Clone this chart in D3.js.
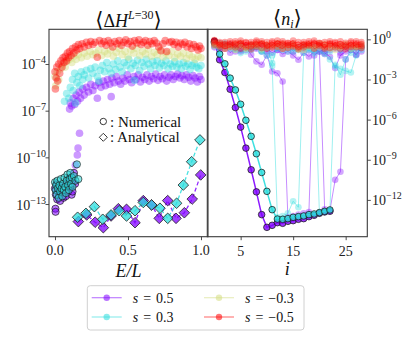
<!DOCTYPE html>
<html><head><meta charset="utf-8">
<script src="https://cdn.jsdelivr.net/npm/d3@7"></script>
<style>body{margin:0;background:#fff}svg{display:block}</style>
</head><body>
<svg id="chart" width="416" height="337"></svg>
<script>
// ---------------- DATA (log10 values) ----------------
const seriesNames = ["s = 0.5", "s = 0.3", "s = −0.3", "s = −0.5"];
const seriesColors = ["#8000ff", "#2adddd", "#d4dd80", "#ff0000"];

// Left panel: numerical <ΔH> scatter, [E/L, log10 value]
const numPurple = [[0.1,-6.9],[0.105,-6.5],[0.115,-6.7],[0.125,-6.2],[0.135,-6.6],[0.145,-6.0],[0.155,-6.4],[0.165,-5.8],[0.175,-6.2],[0.19,-5.6],[0.2,-6.0],[0.215,-5.5],[0.23,-5.8],[0.245,-5.3],[0.26,-5.7],[0.275,-5.4],[0.29,-6.2],[0.3,-5.2],[0.315,-5.5],[0.33,-5.1],[0.345,-5.4],[0.36,-5.0],[0.375,-5.3],[0.385,-6.1],[0.39,-4.9],[0.405,-5.2],[0.42,-4.8],[0.435,-5.1],[0.45,-5.3],[0.465,-4.9],[0.48,-5.1],[0.495,-4.7],[0.51,-5.0],[0.525,-5.2],[0.54,-4.8],[0.555,-5.0],[0.57,-4.7],[0.585,-5.15],[0.6,-4.85],[0.615,-5.0],[0.63,-4.7],[0.645,-5.1],[0.66,-4.8],[0.675,-4.95],[0.69,-4.65],[0.705,-5.05],[0.72,-4.8],[0.735,-4.95],[0.75,-4.7],[0.765,-5.1],[0.78,-4.85],[0.795,-4.7],[0.81,-5.0],[0.825,-4.8],[0.84,-4.65],[0.855,-4.9],[0.87,-4.75],[0.885,-5.0],[0.9,-4.7],[0.915,-4.85],[0.93,-5.1],[0.945,-4.75],[0.96,-4.9],[0.975,-5.15],[0.99,-4.8],[1.0,-5.0],[0.14,-10.5],[0.153,-9.85],[0.158,-9.4],[0.168,-8.45]];
const numCyan = [[0.065,-6.4],[0.08,-5.9],[0.095,-6.2],[0.105,-5.5],[0.12,-5.0],[0.125,-5.7],[0.135,-4.6],[0.14,-6.5],[0.15,-5.2],[0.16,-4.8],[0.17,-5.4],[0.18,-4.5],[0.19,-5.0],[0.2,-4.7],[0.215,-4.4],[0.23,-4.9],[0.245,-4.3],[0.26,-4.6],[0.275,-4.2],[0.29,-4.8],[0.3,-5.1],[0.31,-4.4],[0.325,-4.1],[0.34,-4.5],[0.355,-3.9],[0.37,-4.3],[0.385,-4.6],[0.4,-4.0],[0.415,-4.35],[0.43,-3.8],[0.445,-4.2],[0.46,-4.5],[0.475,-3.9],[0.49,-4.1],[0.505,-3.7],[0.52,-4.3],[0.535,-3.95],[0.545,-5.05],[0.55,-4.1],[0.565,-3.75],[0.58,-4.4],[0.595,-3.9],[0.61,-4.15],[0.625,-3.7],[0.64,-4.0],[0.655,-4.3],[0.67,-3.85],[0.685,-4.1],[0.7,-3.8],[0.715,-4.25],[0.73,-3.95],[0.745,-4.1],[0.76,-3.8],[0.775,-4.3],[0.79,-4.0],[0.805,-4.15],[0.82,-3.85],[0.835,-4.2],[0.85,-4.0],[0.865,-4.3],[0.88,-3.9],[0.895,-4.15],[0.91,-4.0],[0.925,-4.35],[0.94,-4.1],[0.955,-3.95],[0.97,-4.2],[0.985,-4.3],[1.0,-4.1]];
const numYellow = [[0.0,-4.8],[0.005,-5.4],[0.015,-4.5],[0.025,-5.0],[0.04,-4.3],[0.055,-4.0],[0.07,-4.2],[0.085,-3.8],[0.1,-3.7],[0.115,-3.9],[0.13,-3.5],[0.145,-3.7],[0.16,-3.4],[0.18,-3.6],[0.2,-3.3],[0.22,-3.5],[0.24,-3.2],[0.26,-3.4],[0.28,-3.3],[0.3,-3.1],[0.32,-3.45],[0.34,-3.2],[0.36,-3.35],[0.38,-3.1],[0.4,-3.5],[0.42,-3.25],[0.44,-3.0],[0.46,-3.4],[0.48,-3.2],[0.5,-3.55],[0.52,-3.1],[0.54,-3.3],[0.56,-3.0],[0.58,-3.45],[0.6,-3.2],[0.62,-3.35],[0.64,-3.05],[0.66,-3.5],[0.68,-3.25],[0.7,-3.4],[0.72,-3.1],[0.74,-3.55],[0.76,-3.3],[0.78,-3.45],[0.8,-3.2],[0.82,-3.6],[0.84,-3.35],[0.86,-3.5],[0.88,-3.3],[0.9,-3.65],[0.92,-3.4],[0.94,-3.55],[0.96,-3.7],[0.98,-3.5],[1.0,-3.6]];
const numRed = [[0.0,-4.5],[0.003,-5.6],[0.008,-4.9],[0.012,-4.2],[0.018,-5.1],[0.025,-4.0],[0.032,-4.6],[0.04,-3.8],[0.048,-4.2],[0.055,-3.6],[0.062,-3.9],[0.07,-3.5],[0.078,-3.8],[0.085,-3.3],[0.092,-3.6],[0.1,-3.2],[0.11,-3.45],[0.12,-3.0],[0.13,-3.3],[0.14,-2.9],[0.15,-3.1],[0.16,-2.75],[0.17,-3.0],[0.185,-2.7],[0.2,-2.9],[0.215,-2.6],[0.23,-2.8],[0.245,-2.55],[0.26,-2.75],[0.275,-2.6],[0.29,-3.57],[0.305,-2.5],[0.32,-2.7],[0.335,-2.55],[0.35,-2.8],[0.365,-2.5],[0.38,-2.65],[0.395,-2.9],[0.41,-2.55],[0.425,-2.7],[0.44,-2.5],[0.455,-2.8],[0.47,-2.6],[0.485,-2.45],[0.5,-2.7],[0.515,-2.55],[0.53,-2.85],[0.545,-2.5],[0.56,-2.65],[0.575,-2.45],[0.59,-2.75],[0.605,-2.6],[0.62,-2.5],[0.635,-2.8],[0.65,-2.55],[0.665,-2.7],[0.68,-2.5],[0.695,-2.65],[0.71,-2.9],[0.726,-3.15],[0.74,-2.7],[0.755,-2.5],[0.765,-3.2],[0.785,-2.6],[0.8,-2.55],[0.815,-2.75],[0.83,-2.6],[0.845,-2.9],[0.86,-2.65],[0.875,-2.75],[0.89,-2.6],[0.905,-2.9],[0.92,-2.7],[0.935,-3.0],[0.95,-2.75],[0.965,-2.9],[0.98,-3.1],[0.99,-2.85],[1.0,-3.0]];
// low-energy cluster (dark edged)
const clusterPurple = [[0.0,-12.0],[0.003,-13.3],[0.004,-13.5],[0.006,-12.4],[0.01,-11.7],[0.015,-12.7],[0.02,-12.2],[0.028,-11.9],[0.035,-12.8],[0.042,-12.3],[0.05,-11.8],[0.058,-12.6],[0.066,-12.0],[0.074,-12.5],[0.082,-11.6],[0.09,-12.2],[0.098,-11.3],[0.106,-11.9],[0.114,-12.4],[0.122,-11.5],[0.13,-11.0],[0.138,-11.7],[0.12,-12.2]];
const clusterCyan = [[0.0,-11.6],[0.004,-12.1],[0.008,-11.8],[0.012,-12.4],[0.016,-11.5],[0.02,-12.0],[0.025,-12.6],[0.03,-11.8],[0.035,-12.2],[0.04,-11.4],[0.045,-12.0],[0.05,-12.5],[0.055,-11.7],[0.06,-12.1],[0.065,-11.3],[0.07,-11.9],[0.075,-12.3],[0.08,-11.5],[0.085,-11.1],[0.09,-11.8],[0.095,-12.1],[0.1,-11.4],[0.105,-11.0],[0.11,-11.7],[0.115,-11.3],[0.12,-11.9],[0.13,-11.2],[0.14,-11.5],[0.15,-10.45],[0.16,-11.4]];
// analytical (diamonds)
const anaPurple = [[0.16,-14.13],[0.217,-13.7],[0.275,-14.17],[0.331,-14.52],[0.384,-13.77],[0.434,-13.3],[0.49,-13.34],[0.548,-14.2],[0.605,-12.78],[0.662,-13.06],[0.714,-13.92],[0.772,-12.78],[0.829,-13.92],[0.886,-13.56],[0.94,-12.68],[0.998,-11.13]];
const anaCyan = [[0.155,-13.85],[0.212,-13.6],[0.27,-13.17],[0.327,-13.98],[0.384,-13.7],[0.44,-13.43],[0.49,-13.77],[0.548,-13.43],[0.605,-12.9],[0.662,-13.06],[0.719,-13.27],[0.772,-13.92],[0.833,-12.95],[0.879,-11.78],[0.936,-10.28],[0.993,-8.88]];

// Right panel: <n_i> profiles, log10 values for i = 0,1,2,...
const nDarkPurple = [-0.15,-1.53,-2.48,-3.73,-5.1,-6.56,-8.13,-9.75,-11.4,-13.1,-14.05,-13.9,-13.7,-13.75,-13.6,-13.55,-13.45,-13.4,-13.25,-13.15,-13.0,-12.9,-12.85];
const nDarkCyan = [-0.25,-1.1,-1.83,-2.9,-3.78,-4.85,-6.05,-7.25,-8.55,-9.95,-11.36,-12.73,-13.43,-13.45,-13.4,-13.3,-13.25,-13.2,-13.1,-13.05,-12.95,-12.85,-12.75];
const nPurple1 = [-0.6,-0.8,-0.5,-1.0,-0.7,-0.9,-0.6,-1.15,-1.65,-1.9,-1.2,-2.4,-2.53,-3.15,-13.3,-13.2,-13.1,-13.0,-12.9,-1.2,-0.9,-1.1,-0.8,-0.7,-1.0,-0.6,-0.8,-0.7,-0.9];
const nPurple2 = [-0.5,-0.7,-0.4,-0.6,-0.9,-0.5,-0.8,-0.6,-0.7,-0.5,-0.9,-0.6,-0.8,-0.7,-0.5,-0.9,-0.6,-0.7,-0.8,-0.6,-0.9,-12.7,-12.8,-10.5,-9.9,-1.5,-0.8,-1.15,-0.6];
const nPurple3 = [-0.3,-0.5,-0.7,-0.4,-0.6,-0.8,-0.5,-0.7,-0.6,-0.9,-0.7,-1.0,-0.8,-1.1,-0.9,-1.2,-1.53,-1.0,-1.28,-0.9,-0.7,-1.0,-1.3,-2.15,-1.2,-0.9,-0.7,-1.15,-0.6];
const nCyan1 = [-0.3,-0.5,-0.4,-0.7,-0.5,-1.03,-0.6,-0.8,-0.5,-0.9,-1.2,-2.0,-13.3,-13.2,-13.0,-12.1,-12.55,-1.0,-0.6,-0.8,-0.5,-0.7,-0.9,-0.6,-0.8,-0.5,-0.7,-0.6,-0.8];
const nCyan2 = [-0.5,-0.3,-0.6,-0.4,-0.8,-0.5,-0.7,-0.4,-0.6,-0.9,-0.5,-1.78,-0.6,-0.8,-0.5,-0.9,-0.7,-0.6,-0.8,-1.03,-13.0,-12.9,-12.8,-1.9,-2.65,-1.5,-1.0,-0.7,-0.5];
const nCyan3 = [-0.4,-0.6,-0.3,-0.5,-0.7,-0.4,-0.9,-0.6,-0.5,-0.8,-0.6,-1.2,-0.7,-0.5,-0.9,-0.6,-0.8,-0.5,-0.7,-0.6,-0.9,-1.1,-1.5,-2.0,-2.2,-2.36,-2.48,-1.2,-0.6];
const nYellow1 = [-0.3,-0.5,-0.4,-0.6,-0.35,-0.55,-0.7,-0.4,-0.5,-0.3,-0.65,-0.45,-0.55,-0.35,-0.6,-0.5,-0.75,-0.4,-0.55,-0.45,-0.6,-0.35,-0.7,-0.5,-0.4,-0.6,-0.45,-0.55,-0.4];
const nYellow2 = [-0.5,-0.35,-0.7,-0.45,-0.8,-0.3,-0.6,-0.5,-0.35,-0.75,-0.4,-0.6,-0.3,-0.7,-0.45,-0.35,-0.55,-0.8,-0.4,-0.65,-0.3,-0.55,-0.45,-0.8,-0.6,-0.35,-0.7,-0.5,-0.6];
const nRed1 = [-0.1,-0.3,-0.2,-0.4,-0.15,-0.35,-0.25,-0.45,-0.2,-0.3,-0.5,-0.25,-0.35,-0.15,-0.4,-0.3,-0.2,-0.45,-0.3,-0.25,-0.4,-0.2,-0.35,-0.3,-0.15,-0.4,-0.25,-0.3,-0.2];
const nRed2 = [-0.4,-0.2,-0.5,-0.3,-0.6,-0.25,-0.45,-0.2,-0.55,-0.35,-0.2,-0.6,-0.3,-0.45,-0.25,-0.55,-0.4,-0.2,-0.5,-0.35,-0.25,-0.6,-0.3,-0.45,-0.5,-0.25,-0.55,-0.4,-0.35];
const nRed3 = [-0.2,-0.6,-0.35,-0.15,-0.45,-0.7,-0.2,-0.35,-0.1,-0.65,-0.4,-0.15,-0.55,-0.7,-0.3,-0.1,-0.6,-0.35,-0.15,-0.7,-0.5,-0.4,-0.65,-0.2,-0.7,-0.55,-0.15,-0.6,-0.5];
const nRed4 = [-0.05,-0.45,-0.7,-0.55,-0.3,-0.1,-0.6,-0.75,-0.4,-0.15,-0.7,-0.45,-0.1,-0.3,-0.65,-0.45,-0.75,-0.6,-0.4,-0.1,-0.3,-0.7,-0.15,-0.6,-0.35,-0.75,-0.45,-0.15,-0.65];

// ticks
const leftXTicks = [0, 0.5, 1.0];
const leftYTicks = [-4, -7, -10, -13];
const rightXTicks = [5, 15, 25];
const rightYTicks = [0, -3, -6, -9, -12];

// ---------------- DRAWING ----------------
const svg = d3.select("#chart");
const SERIF = '"Liberation Serif","Times New Roman","DejaVu Serif",serif';
const BRACK = '"DejaVu Sans",sans-serif';
const [P, C, Y, R] = seriesColors;

const xL = d3.scaleLinear().domain([-0.041, 1.048]).range([49, 208]);
const yL = d3.scaleLog().domain([Math.pow(10, -15.1), Math.pow(10, -1.77)]).range([236.7, 29.3]);
const xR = d3.scaleLinear().domain([-1.35, 29.12]).range([207.3, 367.3]);
const yR = d3.scaleLog().domain([Math.pow(10, -14.75), Math.pow(10, 0.75)]).range([236.7, 29.3]);

const defs = svg.append("defs");
defs.append("clipPath").attr("id", "clipL").append("rect").attr("x", 49).attr("y", 29.3).attr("width", 159).attr("height", 207.4);
defs.append("clipPath").attr("id", "clipR").append("rect").attr("x", 207.3).attr("y", 29.3).attr("width", 160).attr("height", 207.4);

// ----- left panel -----
const gL = svg.append("g").attr("clip-path", "url(#clipL)");
function scatter(g, data, color, r, op, edge) {
  g.append("g").selectAll("circle").data(data).join("circle")
    .attr("cx", d => xL(d[0])).attr("cy", d => yL(Math.pow(10, d[1]))).attr("r", r)
    .attr("fill", color).attr("fill-opacity", op)
    .attr("stroke", edge ? "#1a1a1a" : "none").attr("stroke-opacity", edge ? 0.75 : 0).attr("stroke-width", 0.9);
}
scatter(gL, numPurple, P, 3.8, 0.4, false);
scatter(gL, numCyan, C, 3.8, 0.4, false);
scatter(gL, numYellow, Y, 3.8, 0.45, false);
scatter(gL, numRed, R, 3.8, 0.4, false);
scatter(gL, clusterPurple, P, 3.6, 0.55, true);
scatter(gL, clusterCyan, C, 3.6, 0.55, true);

const lineL = d3.line().x(d => xL(d[0])).y(d => yL(Math.pow(10, d[1])));
[[anaPurple, P], [anaCyan, C]].forEach(([data, col]) => {
  gL.append("path").attr("d", lineL(data)).attr("fill", "none").attr("stroke", col)
    .attr("stroke-width", 1.3).attr("stroke-dasharray", "4,2.5").attr("stroke-opacity", 0.85);
});
const diamond = (x, y, s) => `M${x},${y - s}L${x + s},${y}L${x},${y + s}L${x - s},${y}Z`;
[[anaPurple, P], [anaCyan, C]].forEach(([data, col]) => {
  gL.append("g").selectAll("path").data(data).join("path")
    .attr("d", d => diamond(xL(d[0]), yL(Math.pow(10, d[1])), 5.3))
    .attr("fill", col).attr("fill-opacity", 0.75)
    .attr("stroke", "#222").attr("stroke-opacity", 0.8).attr("stroke-width", 1);
});

// ----- right panel -----
const gR = svg.append("g").attr("clip-path", "url(#clipR)");
const lineR = d3.line().x(d => xR(d[0])).y(d => yR(Math.pow(10, d[1])));
function profile(vals, color, opts) {
  const pts = vals.map((v, i) => [i, v]);
  gR.append("path").attr("d", lineR(pts)).attr("fill", "none").attr("stroke", color)
    .attr("stroke-width", opts.lw).attr("stroke-opacity", opts.lop);
  gR.append("g").selectAll("circle").data(pts).join("circle")
    .attr("cx", d => xR(d[0])).attr("cy", d => yR(Math.pow(10, d[1]))).attr("r", 3.3)
    .attr("fill", color).attr("fill-opacity", opts.mop)
    .attr("stroke", opts.edge ? "#1a1a1a" : "none").attr("stroke-width", 0.9).attr("stroke-opacity", 0.85);
}
const light = { lw: 1, lop: 0.45, mop: 0.35, edge: false };
[nPurple1, nPurple2, nPurple3].forEach(v => profile(v, P, light));
[nCyan1, nCyan2, nCyan3].forEach(v => profile(v, C, light));
profile(nDarkPurple, P, { lw: 1.5, lop: 0.9, mop: 0.8, edge: true });
profile(nDarkCyan, C, { lw: 1.5, lop: 0.9, mop: 0.8, edge: true });
[nYellow1, nYellow2].forEach(v => profile(v, Y, { lw: 1, lop: 0.45, mop: 0.45, edge: false }));
[nRed1, nRed2, nRed3, nRed4].forEach(v => profile(v, R, { lw: 1, lop: 0.4, mop: 0.35, edge: false }));

// ----- frames -----
const axG = svg.append("g");
axG.append("rect").attr("x", 49).attr("y", 29.3).attr("width", 159).attr("height", 207.4)
  .attr("fill", "none").attr("stroke", "#3a3a3a").attr("stroke-width", 1.1);
axG.append("rect").attr("x", 207.3).attr("y", 29.3).attr("width", 160).attr("height", 207.4)
  .attr("fill", "none").attr("stroke", "#3a3a3a").attr("stroke-width", 1.1);

// ----- axes (ticks) -----
function styleAxis(g) { g.select(".domain").remove(); g.selectAll(".tick line").attr("stroke", "#3a3a3a").attr("stroke-width", 0.9); }
svg.append("g").attr("transform", "translate(0,236.7)")
  .call(d3.axisBottom(xL).tickValues(leftXTicks).tickSize(3.5).tickFormat("")).call(styleAxis);
svg.append("g").attr("transform", "translate(0,236.7)")
  .call(d3.axisBottom(xR).tickValues(rightXTicks).tickSize(3.5).tickFormat("")).call(styleAxis);
svg.append("g").attr("transform", "translate(49,0)")
  .call(d3.axisLeft(yL).tickValues(leftYTicks.map(e => Math.pow(10, e))).tickSize(3.5).tickFormat("")).call(styleAxis);
svg.append("g").attr("transform", "translate(367.3,0)")
  .call(d3.axisRight(yR).tickValues(rightYTicks.map(e => Math.pow(10, e))).tickSize(3.5).tickFormat("")).call(styleAxis);

// tick labels
const fmt1 = d3.format(".1f");
svg.append("g").selectAll("text").data(leftXTicks).join("text")
  .attr("x", d => xL(d)).attr("y", 255).attr("text-anchor", "middle")
  .style("font-family", SERIF).attr("font-size", 14).attr("fill", "#222").text(d => fmt1(d));
svg.append("g").selectAll("text").data(rightXTicks).join("text")
  .attr("x", d => xR(d)).attr("y", 255.5).attr("text-anchor", "middle")
  .style("font-family", SERIF).attr("font-size", 14).attr("fill", "#222").text(d => d);
function powLabel(g, x, y, e, anchor) {
  const t = g.append("text").attr("x", x).attr("y", y).attr("text-anchor", anchor)
    .style("font-family", SERIF).attr("font-size", 14).attr("fill", "#222");
  t.append("tspan").text("10");
  t.append("tspan").attr("dy", -6).attr("font-size", 10).text(e === 0 ? "0" : "−" + Math.abs(e));
}
const lyl = svg.append("g");
leftYTicks.forEach(e => powLabel(lyl, 46, yL(Math.pow(10, e)) + 5.5, e, "end"));
const ryl = svg.append("g");
rightYTicks.forEach(e => powLabel(ryl, 372, yR(Math.pow(10, e)) + 5, e, "start"));

// ----- titles & axis labels -----
const t1 = svg.append("text").attr("x", 128.5).attr("y", 26.5).attr("text-anchor", "middle")
  .style("font-family", SERIF).attr("font-size", 18).attr("fill", "#111");
t1.append("tspan").attr("font-size", 21).style("font-family", BRACK).text("⟨");
t1.append("tspan").text("Δ");
t1.append("tspan").attr("font-style", "italic").text("H");
t1.append("tspan").attr("dy", -8).attr("font-size", 12).attr("font-style", "italic").text("L");
t1.append("tspan").attr("font-size", 12).text("=30");
t1.append("tspan").attr("dy", 8).attr("font-size", 21).style("font-family", BRACK).text("⟩");

const t2 = svg.append("text").attr("x", 287.3).attr("y", 24.5).attr("text-anchor", "middle")
  .style("font-family", SERIF).attr("font-size", 18).attr("fill", "#111");
t2.append("tspan").attr("font-size", 21).style("font-family", BRACK).text("⟨");
t2.append("tspan").attr("font-style", "italic").text("n");
t2.append("tspan").attr("dy", 3).attr("font-size", 12).attr("font-style", "italic").text("i");
t2.append("tspan").attr("dy", -3).attr("font-size", 21).style("font-family", BRACK).text("⟩");

svg.append("text").attr("x", 128.5).attr("y", 277).attr("text-anchor", "middle")
  .style("font-family", SERIF).attr("font-size", 18).attr("font-style", "italic").attr("fill", "#111").text("E/L");
svg.append("text").attr("x", 287.3).attr("y", 275).attr("text-anchor", "middle")
  .style("font-family", SERIF).attr("font-size", 18).attr("font-style", "italic").attr("fill", "#111").text("i");

// ----- in-panel marker key -----
svg.append("circle").attr("cx", 103.3).attr("cy", 121.5).attr("r", 3.2).attr("fill", "none").attr("stroke", "#222").attr("stroke-width", 0.9);
svg.append("text").attr("x", 110).attr("y", 126.5).style("font-family", SERIF).attr("font-size", 15).attr("fill", "#111").text(": Numerical");
svg.append("path").attr("d", diamond(103.3, 137.3, 4)).attr("fill", "none").attr("stroke", "#222").attr("stroke-width", 0.9);
svg.append("text").attr("x", 110).attr("y", 142).style("font-family", SERIF).attr("font-size", 15).attr("fill", "#111").text(": Analytical");

// ----- legend -----
const lg = svg.append("g");
lg.append("rect").attr("x", 87.3).attr("y", 285.7).attr("width", 216.7).attr("height", 44.3).attr("rx", 3)
  .attr("fill", "#fff").attr("fill-opacity", 0.8).attr("stroke", "#d0d0d0").attr("stroke-width", 1);
const legPos = [[91.7, 297.7], [91.7, 317], [204, 297.7], [204, 317]];
seriesNames.forEach((name, k) => {
  const [x0, y0] = legPos[k];
  lg.append("line").attr("x1", x0).attr("x2", x0 + 30).attr("y1", y0).attr("y2", y0)
    .attr("stroke", seriesColors[k]).attr("stroke-opacity", 0.5).attr("stroke-width", 1.2);
  lg.append("circle").attr("cx", x0 + 15).attr("cy", y0).attr("r", 3.2)
    .attr("fill", seriesColors[k]).attr("fill-opacity", 0.55);
  const parts = name.split(" = ");
  const t = lg.append("text").attr("x", x0 + 41).attr("y", y0 + 4.8)
    .style("font-family", SERIF).attr("font-size", 14).attr("fill", "#111");
  t.append("tspan").attr("font-style", "italic").text(parts[0]);
  t.append("tspan").attr("dx", 5).text("=");
  t.append("tspan").attr("dx", 5).text(parts[1]);
});
</script>
</body></html>
